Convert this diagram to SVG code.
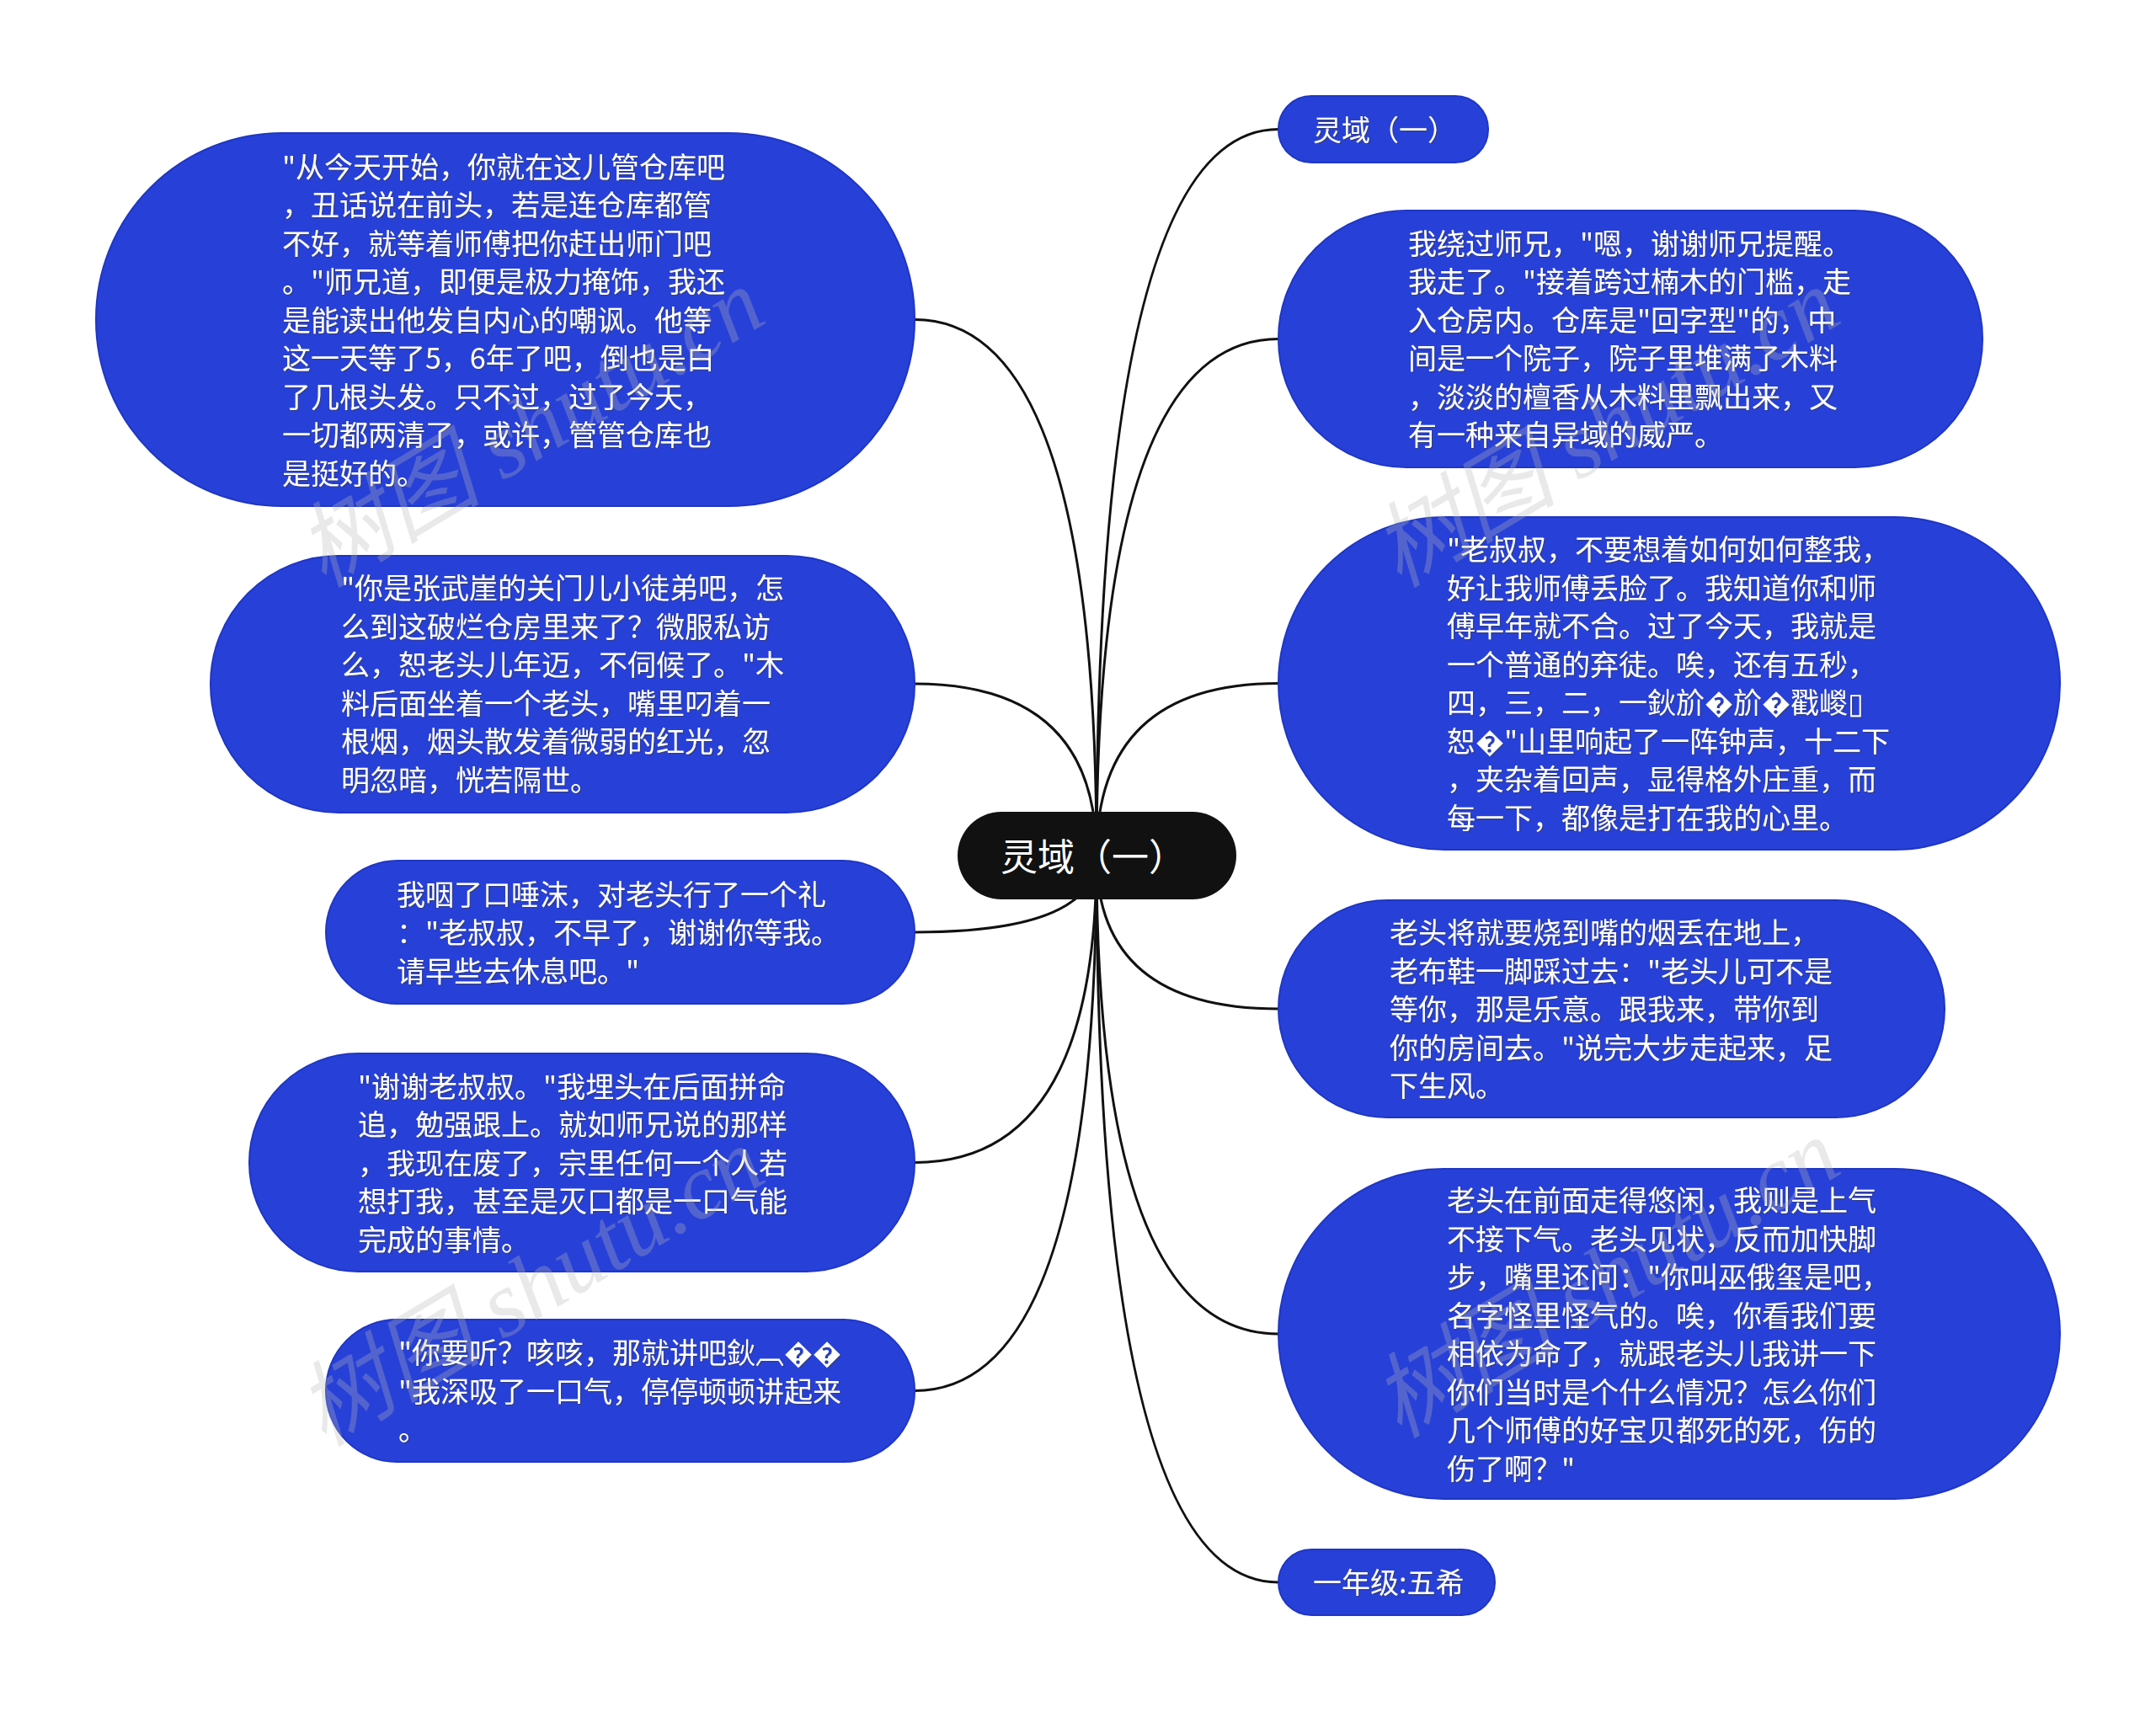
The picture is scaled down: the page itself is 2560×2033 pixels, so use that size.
<svg xmlns="http://www.w3.org/2000/svg" width="2560" height="2033" viewBox="0 0 2560 2033">
<defs>
<style>
.node{fill:#2740d8;stroke:#1f36c4;stroke-width:2}
.root{fill:#111111}
.t{font-family:"Noto Sans CJK SC","Noto Sans",sans-serif;font-size:34px;fill:#ffffff;filter:url(#sh)}
.rt{font-family:"Noto Sans CJK SC","Noto Sans",sans-serif;font-size:44px;fill:#ffffff}
.edge{fill:none;stroke:#111111;stroke-width:3;stroke-linecap:round}
.wm{font-family:"Liberation Serif","Noto Sans CJK SC",serif;font-style:italic;font-size:110px;fill:#b8b8b8;opacity:0.3}
</style>
<filter id="sh" x="-5%" y="-20%" width="110%" height="140%">
<feDropShadow dx="1.2" dy="1.2" stdDeviation="0.6" flood-color="#3a3a3a" flood-opacity="0.55"/>
</filter>
</defs>
<rect width="2560" height="2033" fill="#ffffff"/>
<g id="connectors">
<path class="edge" d="M1302,1016 Q1302,379.5 1086,379.5"/>
<path class="edge" d="M1302,1016 Q1302,812 1086,812"/>
<path class="edge" d="M1302,1016 Q1302,1107 1086,1107"/>
<path class="edge" d="M1302,1016 Q1302,1380.5 1086,1380.5"/>
<path class="edge" d="M1302,1016 Q1302,1651.5 1086,1651.5"/>
<path class="edge" d="M1302,1016 Q1302,153.5 1518,153.5"/>
<path class="edge" d="M1302,1016 Q1302,402.5 1518,402.5"/>
<path class="edge" d="M1302,1016 Q1302,811.5 1518,811.5"/>
<path class="edge" d="M1302,1016 Q1302,1198 1518,1198"/>
<path class="edge" d="M1302,1016 Q1302,1584 1518,1584"/>
<path class="edge" d="M1302,1016 Q1302,1879 1518,1879"/>
</g>
<g id="root">
<rect class="root" x="1137" y="964" width="331" height="104" rx="52"/>
<text class="rt" x="1188" y="1034">灵域（一）</text>
</g>
<g id="L1">
<rect class="node" x="114" y="158" width="972" height="443" rx="221"/>
<text class="t" x="335" y="210.5"><tspan x="335">"从今天开始，你就在这儿管仓库吧</tspan><tspan x="335" dy="45.5">，丑话说在前头，若是连仓库都管</tspan><tspan x="335" dy="45.5">不好，就等着师傅把你赶出师门吧</tspan><tspan x="335" dy="45.5">。"师兄道，即便是极力掩饰，我还</tspan><tspan x="335" dy="45.5">是能读出他发自内心的嘲讽。他等</tspan><tspan x="335" dy="45.5">这一天等了5，6年了吧，倒也是白</tspan><tspan x="335" dy="45.5">了几根头发。只不过，过了今天，</tspan><tspan x="335" dy="45.5">一切都两清了，或许，管管仓库也</tspan><tspan x="335" dy="45.5">是挺好的。</tspan></text>
</g>
<g id="L2">
<rect class="node" x="250" y="660" width="836" height="305" rx="152"/>
<text class="t" x="405" y="711"><tspan x="405">"你是张武崖的关门儿小徒弟吧，怎</tspan><tspan x="405" dy="45.5">么到这破烂仓房里来了？微服私访</tspan><tspan x="405" dy="45.5">么，恕老头儿年迈，不伺候了。"木</tspan><tspan x="405" dy="45.5">料后面坐着一个老头，嘴里叼着一</tspan><tspan x="405" dy="45.5">根烟，烟头散发着微弱的红光，忽</tspan><tspan x="405" dy="45.5">明忽暗，恍若隔世。</tspan></text>
</g>
<g id="L3">
<rect class="node" x="387" y="1022" width="699" height="170" rx="85"/>
<text class="t" x="471" y="1074.5"><tspan x="471">我咽了口唾沫，对老头行了一个礼</tspan><tspan x="471" dy="45.5">："老叔叔，不早了，谢谢你等我。</tspan><tspan x="471" dy="45.5">请早些去休息吧。"</tspan></text>
</g>
<g id="L4">
<rect class="node" x="296" y="1251" width="790" height="259" rx="129"/>
<text class="t" x="425" y="1302.5"><tspan x="425">"谢谢老叔叔。"我埋头在后面拼命</tspan><tspan x="425" dy="45.5">追，勉强跟上。就如师兄说的那样</tspan><tspan x="425" dy="45.5">，我现在废了，宗里任何一个人若</tspan><tspan x="425" dy="45.5">想打我，甚至是灭口都是一口气能</tspan><tspan x="425" dy="45.5">完成的事情。</tspan></text>
</g>
<g id="L5">
<rect class="node" x="387" y="1567" width="699" height="169" rx="84"/>
<text class="t" x="473" y="1619"><tspan x="473">"你要听？咳咳，那就讲吧鈥︹��</tspan><tspan x="473" dy="45.5">"我深吸了一口气，停停顿顿讲起来</tspan><tspan x="473" dy="45.5">。</tspan></text>
</g>
<g id="R1">
<rect class="node" x="1518" y="114" width="249" height="79" rx="39"/>
<text class="t" x="1559" y="166.5">灵域（一）</text>
</g>
<g id="R2">
<rect class="node" x="1518" y="250" width="836" height="305" rx="152"/>
<text class="t" x="1672" y="301.75"><tspan x="1672">我绕过师兄，"嗯，谢谢师兄提醒。</tspan><tspan x="1672" dy="45.5">我走了。"接着跨过楠木的门槛，走</tspan><tspan x="1672" dy="45.5">入仓房内。仓库是"回字型"的，中</tspan><tspan x="1672" dy="45.5">间是一个院子，院子里堆满了木料</tspan><tspan x="1672" dy="45.5">，淡淡的檀香从木料里飘出来，又</tspan><tspan x="1672" dy="45.5">有一种来自异域的威严。</tspan></text>
</g>
<g id="R3">
<rect class="node" x="1518" y="614" width="928" height="395" rx="197"/>
<text class="t" x="1718" y="665"><tspan x="1718">"老叔叔，不要想着如何如何整我，</tspan><tspan x="1718" dy="45.5">好让我师傅丢脸了。我知道你和师</tspan><tspan x="1718" dy="45.5">傅早年就不合。过了今天，我就是</tspan><tspan x="1718" dy="45.5">一个普通的弃徒。唉，还有五秒，</tspan><tspan x="1718" dy="45.5">四，三，二，一鈥斺�斺�戳嵕▯</tspan><tspan x="1718" dy="45.5">恕�"山里响起了一阵钟声，十二下</tspan><tspan x="1718" dy="45.5">，夹杂着回声，显得格外庄重，而</tspan><tspan x="1718" dy="45.5">每一下，都像是打在我的心里。</tspan></text>
</g>
<g id="R4">
<rect class="node" x="1518" y="1069" width="791" height="258" rx="129"/>
<text class="t" x="1650" y="1120"><tspan x="1650">老头将就要烧到嘴的烟丢在地上，</tspan><tspan x="1650" dy="45.5">老布鞋一脚踩过去："老头儿可不是</tspan><tspan x="1650" dy="45.5">等你，那是乐意。跟我来，带你到</tspan><tspan x="1650" dy="45.5">你的房间去。"说完大步走起来，足</tspan><tspan x="1650" dy="45.5">下生风。</tspan></text>
</g>
<g id="R5">
<rect class="node" x="1518" y="1388" width="928" height="392" rx="196"/>
<text class="t" x="1718" y="1438"><tspan x="1718">老头在前面走得悠闲，我则是上气</tspan><tspan x="1718" dy="45.5">不接下气。老头见状，反而加快脚</tspan><tspan x="1718" dy="45.5">步，嘴里还问："你叫巫俄玺是吧，</tspan><tspan x="1718" dy="45.5">名字怪里怪气的。唉，你看我们要</tspan><tspan x="1718" dy="45.5">相依为命了，就跟老头儿我讲一下</tspan><tspan x="1718" dy="45.5">你们当时是个什么情况？怎么你们</tspan><tspan x="1718" dy="45.5">几个师傅的好宝贝都死的死，伤的</tspan><tspan x="1718" dy="45.5">伤了啊？"</tspan></text>
</g>
<g id="R6">
<rect class="node" x="1518" y="1840" width="257" height="78" rx="39"/>
<text class="t" x="1559" y="1892">一年级:五希</text>
</g>
<g id="watermark">
<text class="wm" text-anchor="middle" transform="translate(649,540) rotate(-31)">树图 shutu.cn</text>
<text class="wm" text-anchor="middle" transform="translate(1926,540) rotate(-31)">树图 shutu.cn</text>
<text class="wm" text-anchor="middle" transform="translate(649,1560) rotate(-31)">树图 shutu.cn</text>
<text class="wm" text-anchor="middle" transform="translate(1926,1550) rotate(-31)">树图 shutu.cn</text>
</g>
</svg>
